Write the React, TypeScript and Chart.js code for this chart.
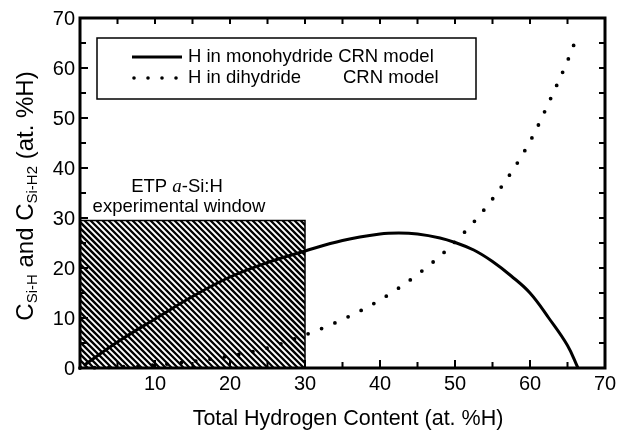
import React, { useEffect, useRef } from "react";
import { Chart, registerables } from "chart.js";

Chart.register(...registerables);

const monoX = [0.5, 5, 10, 15, 20, 25, 30, 35, 40, 42.5, 45, 48, 50, 52.5, 55, 57.5, 60, 62.5, 65, 66.4];
const monoY = [0.5, 5.2, 9.8, 14.3, 18.2, 21.1, 23.4, 25.5, 26.8, 27, 26.8, 26, 25.1, 23.6, 21.3, 18.4, 15, 10, 4.5, 0];
const diX = [0, 5, 10, 15, 20, 25, 30, 35, 40, 45, 50, 55, 60, 63, 65, 66.2];
const diY = [0, 0.2, 0.6, 1.3, 2.4, 4.0, 6.6, 9.7, 13.6, 18.7, 25.2, 33.8, 45.3, 54.7, 61.4, 66];
const xTickLabels = ["10", "20", "30", "40", "50", "60", "70"];
const yTickLabels = ["0", "10", "20", "30", "40", "50", "60", "70"];
const seriesNames = ["H in monohydride CRN model", "H in dihydride"];
const windowX = [0, 30];
const windowY = [0, 29.5];

const FONT = "'Liberation Sans', Arial, sans-serif";

const decor = {
  id: "decor",
  beforeDatasetsDraw(chart: any) {
    const { ctx, scales } = chart;
    const xs = scales.x, ys = scales.y;
    const x0 = xs.getPixelForValue(windowX[0]);
    const x1 = xs.getPixelForValue(windowX[1]);
    const y0 = ys.getPixelForValue(windowY[1]);
    const y1 = ys.getPixelForValue(windowY[0]);
    ctx.save();
    ctx.beginPath();
    ctx.rect(x0, y0, x1 - x0, y1 - y0);
    ctx.clip();
    ctx.strokeStyle = "#000";
    ctx.lineWidth = 2.3;
    const h = y1 - y0;
    for (let k = x0 - h - 10; k < x1 + 10; k += 6) {
      ctx.beginPath();
      ctx.moveTo(k, y0);
      ctx.lineTo(k + h, y1);
      ctx.stroke();
    }
    ctx.restore();
    ctx.save();
    ctx.strokeStyle = "#000";
    ctx.lineWidth = 1.5;
    ctx.strokeRect(x0, y0, x1 - x0, y1 - y0);
    ctx.restore();
  },
  afterDatasetsDraw(chart: any) {
    const { ctx, scales, chartArea } = chart;
    const xs = scales.x, ys = scales.y;
    const { left, right, top, bottom } = chartArea;
    ctx.save();
    ctx.strokeStyle = "#000";
    ctx.fillStyle = "#000";
    ctx.lineWidth = 2;
    for (let v = 0; v <= 70; v += 5) {
      const px = xs.getPixelForValue(v);
      const major = v % 10 === 0;
      ctx.beginPath();
      ctx.moveTo(px, bottom);
      ctx.lineTo(px, bottom - (major ? 8 : 6));
      ctx.moveTo(px, top);
      ctx.lineTo(px, top + 6);
      ctx.stroke();
      const py = ys.getPixelForValue(v);
      ctx.beginPath();
      ctx.moveTo(left, py);
      ctx.lineTo(left + (major ? 8 : 6), py);
      ctx.moveTo(right, py);
      ctx.lineTo(right - 6, py);
      ctx.stroke();
    }
    ctx.lineWidth = 3;
    ctx.strokeRect(left, top, right - left, bottom - top);
    ctx.font = `20px ${FONT}`;
    ctx.textAlign = "center";
    ctx.textBaseline = "alphabetic";
    xTickLabels.forEach((t) => {
      ctx.fillText(t, xs.getPixelForValue(Number(t)), bottom + 22);
    });
    ctx.textAlign = "right";
    ctx.textBaseline = "middle";
    yTickLabels.forEach((t) => {
      ctx.fillText(t, left - 5, ys.getPixelForValue(Number(t)) + 1);
    });
    ctx.font = `21.5px ${FONT}`;
    ctx.textAlign = "center";
    ctx.textBaseline = "alphabetic";
    ctx.fillText("Total Hydrogen Content (at. %H)", 348, 425);
    const big = `24px ${FONT}`;
    const small = `15px ${FONT}`;
    const parts: [string, boolean][] = [
      ["C", false], ["Si-H", true], [" and C", false], ["Si-H2", true], [" (at. %H)", false],
    ];
    let total = 0;
    parts.forEach(([s, sub]) => { ctx.font = sub ? small : big; total += ctx.measureText(s).width; });
    ctx.translate(33, 196);
    ctx.rotate(-Math.PI / 2);
    ctx.textAlign = "left";
    let cx = -total / 2;
    parts.forEach(([s, sub]) => {
      ctx.font = sub ? small : big;
      ctx.fillText(s, cx, sub ? 4 : 0);
      cx += ctx.measureText(s).width;
    });
    ctx.setTransform(1, 0, 0, 1, 0, 0);
    ctx.textAlign = "left";
    ctx.font = `18.5px ${FONT}`;
    const a = "ETP ", b = "a", c = "-Si:H";
    const wa = ctx.measureText(a).width;
    ctx.font = `italic 19px 'Liberation Serif', serif`;
    const wb = ctx.measureText(b).width;
    ctx.font = `18.5px ${FONT}`;
    const wc = ctx.measureText(c).width;
    let sx = 177 - (wa + wb + wc) / 2;
    ctx.fillText(a, sx, 192); sx += wa;
    ctx.font = `italic 19px 'Liberation Serif', serif`;
    ctx.fillText(b, sx, 192); sx += wb;
    ctx.font = `18.5px ${FONT}`;
    ctx.fillText(c, sx, 192);
    ctx.textAlign = "center";
    ctx.fillText("experimental window", 179, 212);
    ctx.lineWidth = 1.5;
    ctx.strokeRect(97, 38, 379, 61);
    ctx.lineWidth = 3;
    ctx.beginPath();
    ctx.moveTo(132, 57);
    ctx.lineTo(182, 57);
    ctx.stroke();
    [134, 148, 162, 176].forEach((dx) => {
      ctx.beginPath();
      ctx.arc(dx, 78, 1.8, 0, Math.PI * 2);
      ctx.fill();
    });
    ctx.textAlign = "left";
    ctx.textBaseline = "middle";
    ctx.font = `18.5px ${FONT}`;
    ctx.fillText(seriesNames[0], 188, 57);
    ctx.fillText(seriesNames[1], 188, 78);
    ctx.fillText("CRN model", 343, 78);
    ctx.restore();
  },
};

export default function App() {
  const ref = useRef<HTMLCanvasElement>(null);
  useEffect(() => {
    if (!ref.current) return;
    const chart = new Chart(ref.current, {
      type: "line",
      data: {
        datasets: [
          {
            label: seriesNames[0],
            data: monoX.map((x, i) => ({ x, y: monoY[i] })),
            borderColor: "#000",
            borderWidth: 3,
            pointRadius: 0,
            tension: 0.4,
            fill: false,
            clip: false as any,
          },
          {
            label: seriesNames[1],
            data: diX.map((x, i) => ({ x, y: diY[i] })),
            borderColor: "#000",
            borderWidth: 3.8,
            borderDash: [0, 14.5],
            borderCapStyle: "round",
            pointRadius: 0,
            cubicInterpolationMode: "monotone",
            fill: false,
            clip: false as any,
          },
        ],
      },
      options: {
        animation: false,
        responsive: false,
        events: [],
        layout: { padding: { top: 18, right: 17, left: 0, bottom: 0 } },
        plugins: { legend: { display: false }, tooltip: { enabled: false }, title: { display: false } },
        scales: {
          x: {
            type: "linear",
            min: 0,
            max: 70,
            grid: { display: false },
            border: { display: false },
            ticks: { display: false },
            afterFit: (s: any) => { s.height = 62; },
          },
          y: {
            type: "linear",
            min: 0,
            max: 70,
            grid: { display: false },
            border: { display: false },
            ticks: { display: false },
            afterFit: (s: any) => { s.width = 80; },
          },
        },
      },
      plugins: [decor],
    });
    return () => chart.destroy();
  }, []);
  return (
    <div style={{ position: "absolute", left: 0, top: 0, width: 622, height: 430, background: "#fff" }}>
      <canvas ref={ref} width={622} height={430} />
    </div>
  );
}
